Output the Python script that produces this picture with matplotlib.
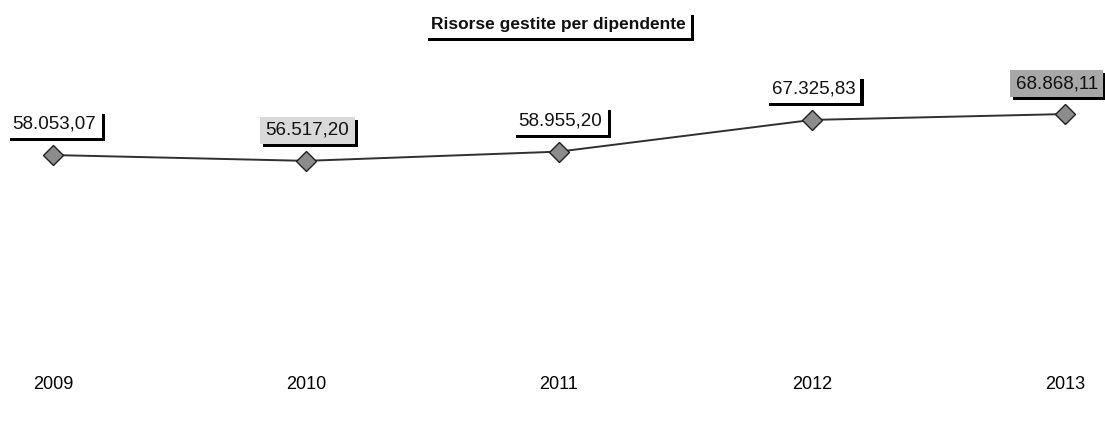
import matplotlib
matplotlib.use("Agg")
import matplotlib.pyplot as plt
import matplotlib.patheffects as pe

years = ["2009", "2010", "2011", "2012", "2013"]
values = [58053.07, 56517.20, 58955.20, 67325.83, 68868.11]
value_labels = ["58.053,07", "56.517,20", "58.955,20", "67.325,83", "68.868,11"]
label_faces = ["white", "#d9d9d9", "white", "white", "#a8a8a8"]
title = "Risorse gestite per dipendente"

plt.rcParams['font.family'] = ['Liberation Sans', 'DejaVu Sans']

fig = plt.figure(figsize=(11.05, 4.23), dpi=100)
ax = fig.add_axes([0, 48 / 423, 1, 341 / 423])

x = list(range(len(years)))
ax.plot(x, values, color="#303030", lw=1.4, marker="D", markersize=10,
        markerfacecolor="#8c8c8c", markeredgecolor="#202020", markeredgewidth=1.0,
        zorder=3, clip_on=False)

ax.set_xlim(-53 / 253, 4 + 40 / 253)
ax.set_ylim(0, 90000)
ax.set_xticks(x)
ax.set_xticklabels(years, fontsize=13)
ax.tick_params(axis="x", length=0, pad=1)
ax.set_yticks([])
for s in ax.spines.values():
    s.set_visible(False)

shadow = [pe.SimplePatchShadow(offset=(2.2, -2.2), shadow_rgbFace="black", alpha=1.0), pe.Normal()]

dx = [1, 1, 1, 1, -6]
for xi, v, lab, fc, d in zip(x, values, value_labels, label_faces, dx):
    t = ax.annotate(lab, (xi, v), xytext=(d, 22), textcoords="offset points",
                    ha="center", va="center", fontsize=13.5, color="#111111",
                    bbox=dict(boxstyle="square,pad=0.28", fc=fc, ec="none"),
                    annotation_clip=False, zorder=4)
    t.get_bbox_patch().set_path_effects(shadow)

tt = fig.text(558 / 1105, 1 - 25 / 423, title, ha="center", va="center",
              fontsize=12.5, fontweight="bold", color="#111111",
              bbox=dict(boxstyle="square,pad=0.3", fc="white", ec="none"))
tt.get_bbox_patch().set_path_effects(shadow)

fig.savefig("out.png", dpi=100)
